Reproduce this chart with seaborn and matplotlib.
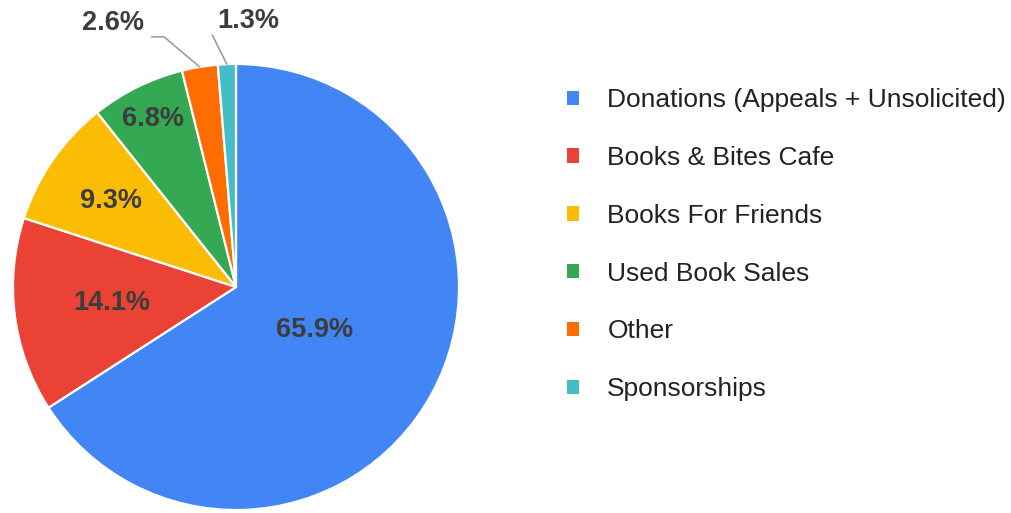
import numpy as np
import matplotlib.pyplot as plt
import seaborn as sns

sns.set_theme(style="white")
plt.rcParams["font.family"] = ["Liberation Sans", "DejaVu Sans"]

# Revenue share by source
categories = [
    "Donations (Appeals + Unsolicited)",
    "Books & Bites Cafe",
    "Books For Friends",
    "Used Book Sales",
    "Other",
    "Sponsorships",
]
shares = [65.9, 14.1, 9.3, 6.8, 2.6, 1.3]
colors = ["#4285F4", "#EA4335", "#FBBC04", "#34A853", "#FF6D01", "#46BDC6"]

# how far from the centre each inside label sits (fraction of radius)
label_dist = [0.40, 0.56, 0.68, 0.84, None, None]

W, H = 1011, 513
fig = plt.figure(figsize=(W / 100, H / 100), dpi=100)
cx, cy, r = 236, 287, 223
ax = fig.add_axes([(cx - r) / W, (H - cy - r) / H, 2 * r / W, 2 * r / H])

wedges, _ = ax.pie(
    shares,
    colors=colors,
    startangle=90,
    counterclock=False,
    wedgeprops=dict(edgecolor="white", linewidth=1.6),
)
ax.set_xlim(-1, 1)
ax.set_ylim(-1, 1)
ax.set_aspect("equal")
ax.axis("off")
for w in wedges:
    w.set_clip_on(False)

txt_kw = dict(fontsize=19.5, fontweight="bold", color="#3d3d3d")

for w, val, d in zip(wedges, shares, label_dist):
    mid = np.deg2rad((w.theta1 + w.theta2) / 2)
    x, y = np.cos(mid), np.sin(mid)
    if d is not None:
        ax.text(d * x, d * y, f"{val}%", ha="center", va="center", **txt_kw)

# small slices: labels outside with leader lines
w_o, w_t = wedges[4], wedges[5]
mid_o = np.deg2rad((w_o.theta1 + w_o.theta2) / 2)
p0 = np.array([np.cos(mid_o), np.sin(mid_o)])
p1 = p0 + np.array([-0.16, 0.135])
p2 = p1 + np.array([-0.055, 0.0])
ax.plot([p0[0], p1[0], p2[0]], [p0[1], p1[1], p2[1]], color="#9e9e9e", lw=1.2, clip_on=False)
ax.text(p2[0] - 0.035, p2[1] + 0.062, f"{shares[4]}%", ha="right", va="center", **txt_kw)

mid_t = np.deg2rad((w_t.theta1 + w_t.theta2) / 2)
q0 = np.array([np.cos(mid_t), np.sin(mid_t)])
q1 = q0 + np.array([-0.065, 0.13])
ax.plot([q0[0], q1[0]], [q0[1], q1[1]], color="#9e9e9e", lw=1.2, clip_on=False)
ax.text(q1[0] + 0.02, q1[1] + 0.062, f"{shares[5]}%", ha="left", va="center", **txt_kw)

leg = fig.legend(
    wedges,
    categories,
    loc="upper left",
    bbox_to_anchor=(554 / W, 1 - 75 / H),
    frameon=False,
    fontsize=19,
    handlelength=0.46,
    handleheight=0.46,
    handletextpad=1.06,
    labelspacing=1.28,
    borderpad=0,
)
for t in leg.get_texts():
    t.set_color("#222222")
for h in leg.legend_handles:
    h.set_edgecolor("none")

fig.savefig("out.png", dpi=100)
